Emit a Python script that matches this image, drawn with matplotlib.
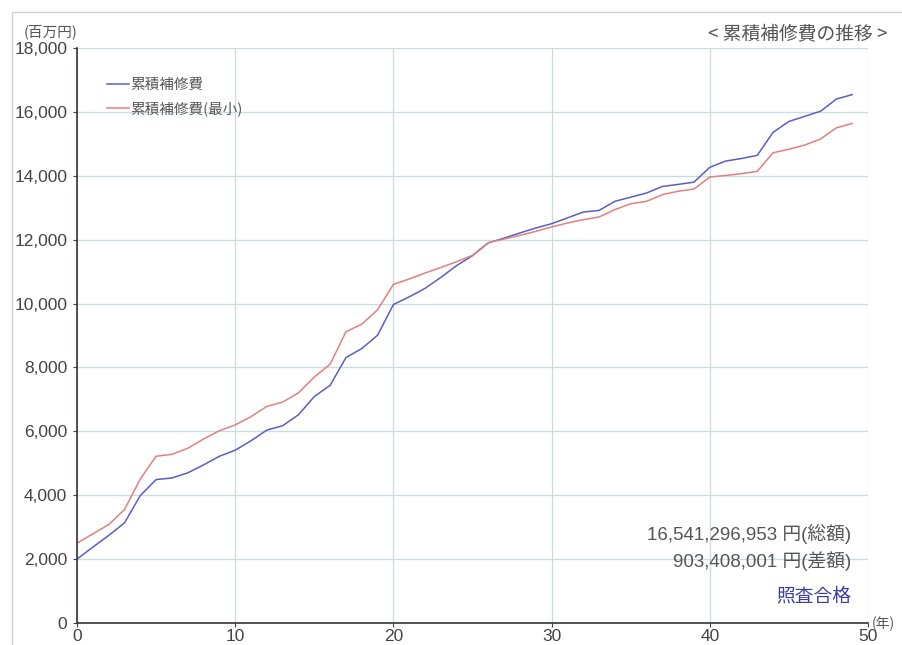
import matplotlib.pyplot as plt
from matplotlib.patches import Rectangle
from matplotlib.ticker import FuncFormatter

plt.rcParams['font.family'] = ['Liberation Sans', 'Noto Sans CJK JP', 'DejaVu Sans']
CJK = ['Noto Sans CJK JP', 'DejaVu Sans']

# data (百万円), years 0..49
years = list(range(50))
cum_cost = [
    2000, 2375, 2740, 3135, 3990, 4490, 4540, 4700, 4950, 5220,
    5410, 5705, 6040, 6175, 6520, 7090, 7440, 8310, 8590, 9010,
    9970, 10210, 10475, 10820, 11190, 11500, 11900, 12050, 12210, 12365,
    12500, 12680, 12865, 12915, 13200, 13330, 13460, 13665, 13730, 13800,
    14265, 14460, 14540, 14640, 15360, 15700, 15860, 16020, 16400, 16541,
]
cum_cost_min = [
    2500, 2790, 3080, 3550, 4510, 5220, 5280, 5470, 5760, 6020,
    6200, 6460, 6780, 6915, 7205, 7700, 8100, 9115, 9355, 9805,
    10600, 10770, 10955, 11130, 11310, 11510, 11910, 12020, 12135, 12260,
    12400, 12520, 12625, 12710, 12940, 13125, 13200, 13410, 13515, 13585,
    13960, 14010, 14065, 14140, 14720, 14830, 14960, 15150, 15500, 15638,
]
series_names = ["累積補修費", "累積補修費(最小)"]
total_text = "16,541,296,953 円(総額)"
diff_text = "903,408,001 円(差額)"
status_text = "照査合格"

fig = plt.figure(figsize=(9.02, 6.45), dpi=100)
ax = fig.add_axes([0.0854, 0.0341, 0.8769, 0.8915])

# outer panel frame
fig.patches.append(Rectangle((12 / 902, -0.1), 1.2, 1 - 12 / 645 + 0.1,
                             transform=fig.transFigure, fill=False,
                             edgecolor='#d0d0d0', linewidth=1))

ax.plot(years, cum_cost, color='#5a5ec2', lw=1.1, label=series_names[0])
ax.plot(years, cum_cost_min, color='#e08080', lw=1.1, label=series_names[1])

ax.set_xlim(0, 50)
ax.set_ylim(0, 18000)
ax.set_xticks(range(0, 51, 10))
ax.set_yticks(range(0, 18001, 2000))
ax.yaxis.set_major_formatter(FuncFormatter(lambda v, p: f"{int(v):,}"))
ax.grid(True, color='#c6dde1', lw=0.9)
ax.set_axisbelow(True)

for s in ["top", "right"]:
    ax.spines[s].set_visible(False)
for s in ["left", "bottom"]:
    ax.spines[s].set_color('#333333')
    ax.spines[s].set_linewidth(1.2)
ax.tick_params(colors='#444444', labelsize=12.5, length=3, width=0.8)
ax.tick_params(axis='y', pad=4)
ax.tick_params(axis='x', pad=1)

leg = ax.legend(loc='upper left', bbox_to_anchor=(0.031, 0.958), frameon=False,
                prop={'family': CJK, 'size': 10.5}, handlelength=1.45,
                handletextpad=0.1, labelspacing=0.65, borderaxespad=0)
for t in leg.get_texts():
    t.set_color('#555555')

# units and title
fig.text(51 / 902, 1 - 32 / 645, "(百万円)", fontsize=10.5, color='#555555',
         ha='center', va='center', family=CJK)
fig.text(888 / 902, 1 - 35 / 645, "< 累積補修費の推移 >", fontsize=13.5,
         color='#555555', ha='right', va='center', family=CJK)
fig.text(872 / 902, 1 - 624 / 645, "(年)", fontsize=10, color='#555555',
         ha='left', va='center', family=CJK)

# summary text
def ax_y(py):
    return (623 - py) / 575

ax.text((851 - 77) / 791, ax_y(534), total_text, transform=ax.transAxes,
        ha='right', va='center', fontsize=13.5, color='#555555')
ax.text((851 - 77) / 791, ax_y(561), diff_text, transform=ax.transAxes,
        ha='right', va='center', fontsize=13.5, color='#555555')
ax.text((851 - 77) / 791, ax_y(596), status_text, transform=ax.transAxes,
        ha='right', va='center', fontsize=13.5, color='#3b3ba8', family=CJK)

fig.savefig("out.png", dpi=100)
